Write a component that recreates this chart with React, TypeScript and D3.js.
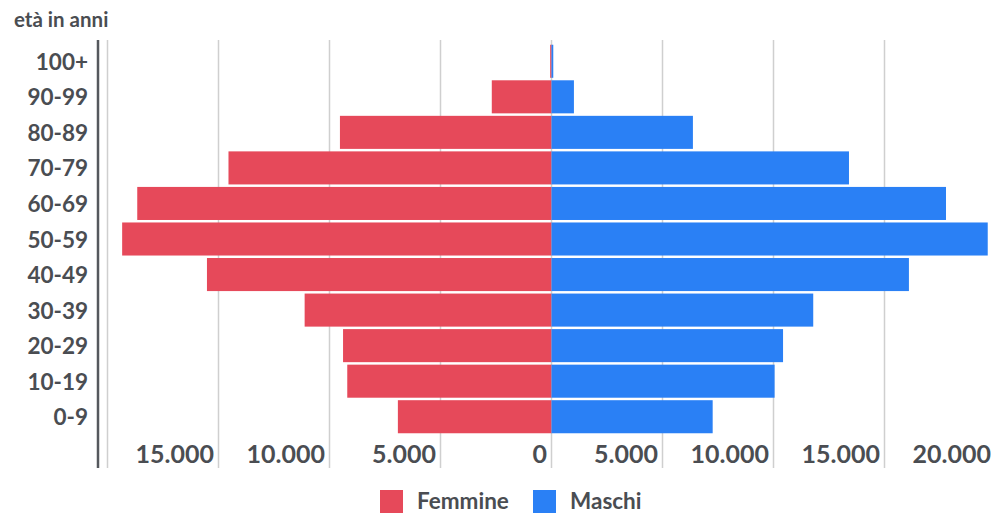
import React from "react";
import * as d3 from "d3";

const ageGroups = ["100+", "90-99", "80-89", "70-79", "60-69", "50-59", "40-49", "30-39", "20-29", "10-19", "0-9"];
const femmine = [60, 2690, 9530, 14550, 18660, 19340, 15520, 11120, 9390, 9200, 6920];
const maschi = [80, 1010, 6370, 13400, 17770, 19650, 16100, 11790, 10430, 10050, 7260];
const xTicks = [-15000, -10000, -5000, 0, 5000, 10000, 15000, 20000];
const gridValues = [-20000, -15000, -10000, -5000, 0, 5000, 10000, 15000, 20000];
const legendItems = ["Femmine", "Maschi"];

const W = 992;
const H = 513;
const RED = "#E6495A";
const BLUE = "#2A80F5";
const TEXT = "#4a4d52";
const FONT = "Lato, 'Open Sans', sans-serif";

const fmt = (v: number) => d3.format(",")(Math.abs(v)).replace(/,/g, ".");

export default function App() {
  const x = d3.scaleLinear().domain([-20000, 20000]).range([107.5, 995.5]);
  const y = d3.scaleBand<string>().domain(ageGroups).range([43.5, 434.5]).paddingInner(0.07).paddingOuter(0.035);
  const gridTop = 40;
  const gridBottom = 468;

  return (
    <svg width={W} height={H} style={{ position: "absolute", left: 0, top: 0, background: "#fff" }} fontFamily={FONT}>
      {gridValues.map((v) => (
        <line key={"g" + v} x1={x(v)} x2={x(v)} y1={gridTop} y2={gridBottom} stroke="#cfcfcf" strokeWidth={1.5} />
      ))}
      <line x1={98} x2={98} y1={gridTop} y2={gridBottom} stroke="#55585d" strokeWidth={2.5} />
      {ageGroups.map((a, i) => (
        <g key={a}>
          <rect x={x(-femmine[i])} y={y(a)} width={x(0) - x(-femmine[i])} height={y.bandwidth()} fill={RED} />
          <rect x={x(0)} y={y(a)} width={x(maschi[i]) - x(0)} height={y.bandwidth()} fill={BLUE} />
          <text x={88} y={(y(a) as number) + y.bandwidth() / 2 + 8.5} textAnchor="end" fontSize={22.5} fontWeight={700} fill={TEXT}>
            {a}
          </text>
        </g>
      ))}
      {xTicks.map((v) => (
        <text key={"t" + v} x={x(v) - 4.5} y={463} textAnchor="end" fontSize={25} fontWeight={700} fill={TEXT}>
          {fmt(v)}
        </text>
      ))}
      <text x={14} y={27} fontSize={20.5} fontWeight={700} fill={TEXT}>età in anni</text>
      {legendItems.map((l, i) => {
        const lx = i === 0 ? 380 : 533;
        return (
          <g key={l}>
            <rect x={lx} y={490} width={23} height={23} fill={i === 0 ? RED : BLUE} />
            <text x={lx + 37} y={509} fontSize={22.5} fontWeight={700} fill={TEXT}>{l}</text>
          </g>
        );
      })}
    </svg>
  );
}
